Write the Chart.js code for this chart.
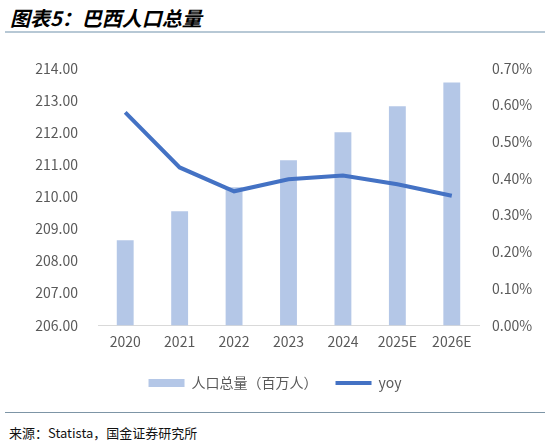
<!DOCTYPE html>
<html lang="zh">
<head>
<meta charset="UTF-8">
<title>巴西人口总量</title>
<script src="https://cdn.jsdelivr.net/npm/chart.js"></script>
<style>
    body { margin: 0; width: 550px; height: 445px; background: #fff; position: relative; overflow: hidden;
           font-family: 'Noto Sans CJK SC', sans-serif; }
    .title { position: absolute; left: 10px; top: 3px; font-size: 20px; font-weight: bold; font-style: italic; color: #000; }
    .rule-top { position: absolute; left: 5px; right: 5px; top: 31px; height: 2px; background: #b7c8d5; }
    .rule-bottom { position: absolute; left: 5px; right: 5px; top: 412px; height: 1px; background: #7d95a6; }
    .source { position: absolute; left: 9px; top: 423px; font-size: 13px; color: #111; }
    .chart-box { position: absolute; left: 0; top: 40px; width: 550px; height: 360px; }
</style>
</head>
<body>
    <div class="title">图表5：巴西人口总量</div>
    <div class="rule-top"></div>
    <div class="chart-box"><canvas id="popChart"></canvas></div>
    <div class="rule-bottom"></div>
    <div class="source">来源：Statista，国金证券研究所</div>

<script>
    const years = ['2020', '2021', '2022', '2023', '2024', '2025E', '2026E'];
    const population = [208.65, 209.55, 210.30, 211.14, 212.01, 212.82, 213.56];  // 百万人
    const yoy = [0.58, 0.43, 0.365, 0.398, 0.408, 0.384, 0.353];                      // %

    const tickFont = { family: "'Noto Sans CJK SC', sans-serif", size: 14 };
    const grey = '#595959';

    new Chart(document.getElementById('popChart'), {
        data: {
            labels: years,
            datasets: [{
                type: 'bar',
                label: '人口总量（百万人）',
                data: population,
                backgroundColor: '#b4c7e7',
                yAxisID: 'y',
                barPercentage: 0.62,
                categoryPercentage: 0.5,
                order: 2
            }, {
                type: 'line',
                label: 'yoy',
                data: yoy,
                borderColor: '#4472c4',
                backgroundColor: '#4472c4',
                borderWidth: 4,
                pointRadius: 0,
                tension: 0,
                yAxisID: 'y1',
                order: 1
            }]
        },
        options: {
            responsive: true,
            maintainAspectRatio: false,
            animation: false,
            layout: { padding: { top: 21, right: 0, left: 0, bottom: 0 } },
            scales: {
                x: {
                    grid: { display: false, drawTicks: false },
                    border: { color: '#d9d9d9', width: 1 },
                    ticks: { color: grey, font: tickFont, padding: 8 }
                },
                y: {
                    position: 'left',
                    min: 206, max: 214,
                    grid: { display: false, drawTicks: false },
                    border: { display: false },
                    ticks: { stepSize: 1, color: grey, font: tickFont, padding: 20,
                             callback: v => v.toFixed(2) },
                    afterFit: a => { a.width = 98; }
                },
                y1: {
                    position: 'right',
                    min: 0, max: 0.7,
                    grid: { display: false, drawTicks: false },
                    border: { display: false },
                    ticks: { stepSize: 0.1, color: grey, font: tickFont, padding: 13,
                             callback: v => v.toFixed(2) + '%' },
                    afterFit: a => { a.width = 71; }
                }
            },
            plugins: {
                tooltip: { enabled: false },
                legend: {
                    position: 'bottom',
                    labels: {
                        color: grey,
                        font: tickFont,
                        usePointStyle: true,
                        pointStyleWidth: 36,
                        boxHeight: 8,
                        padding: 18,
                        sort: (a, b) => a.datasetIndex - b.datasetIndex,
                        generateLabels: chart => {
                            const items = Chart.defaults.plugins.legend.labels.generateLabels(chart);
                            items.forEach(it => { it.pointStyle = it.datasetIndex === 0 ? 'rect' : 'line'; });
                            return items;
                        }
                    }
                }
            }
        }
    });
</script>
</body>
</html>
